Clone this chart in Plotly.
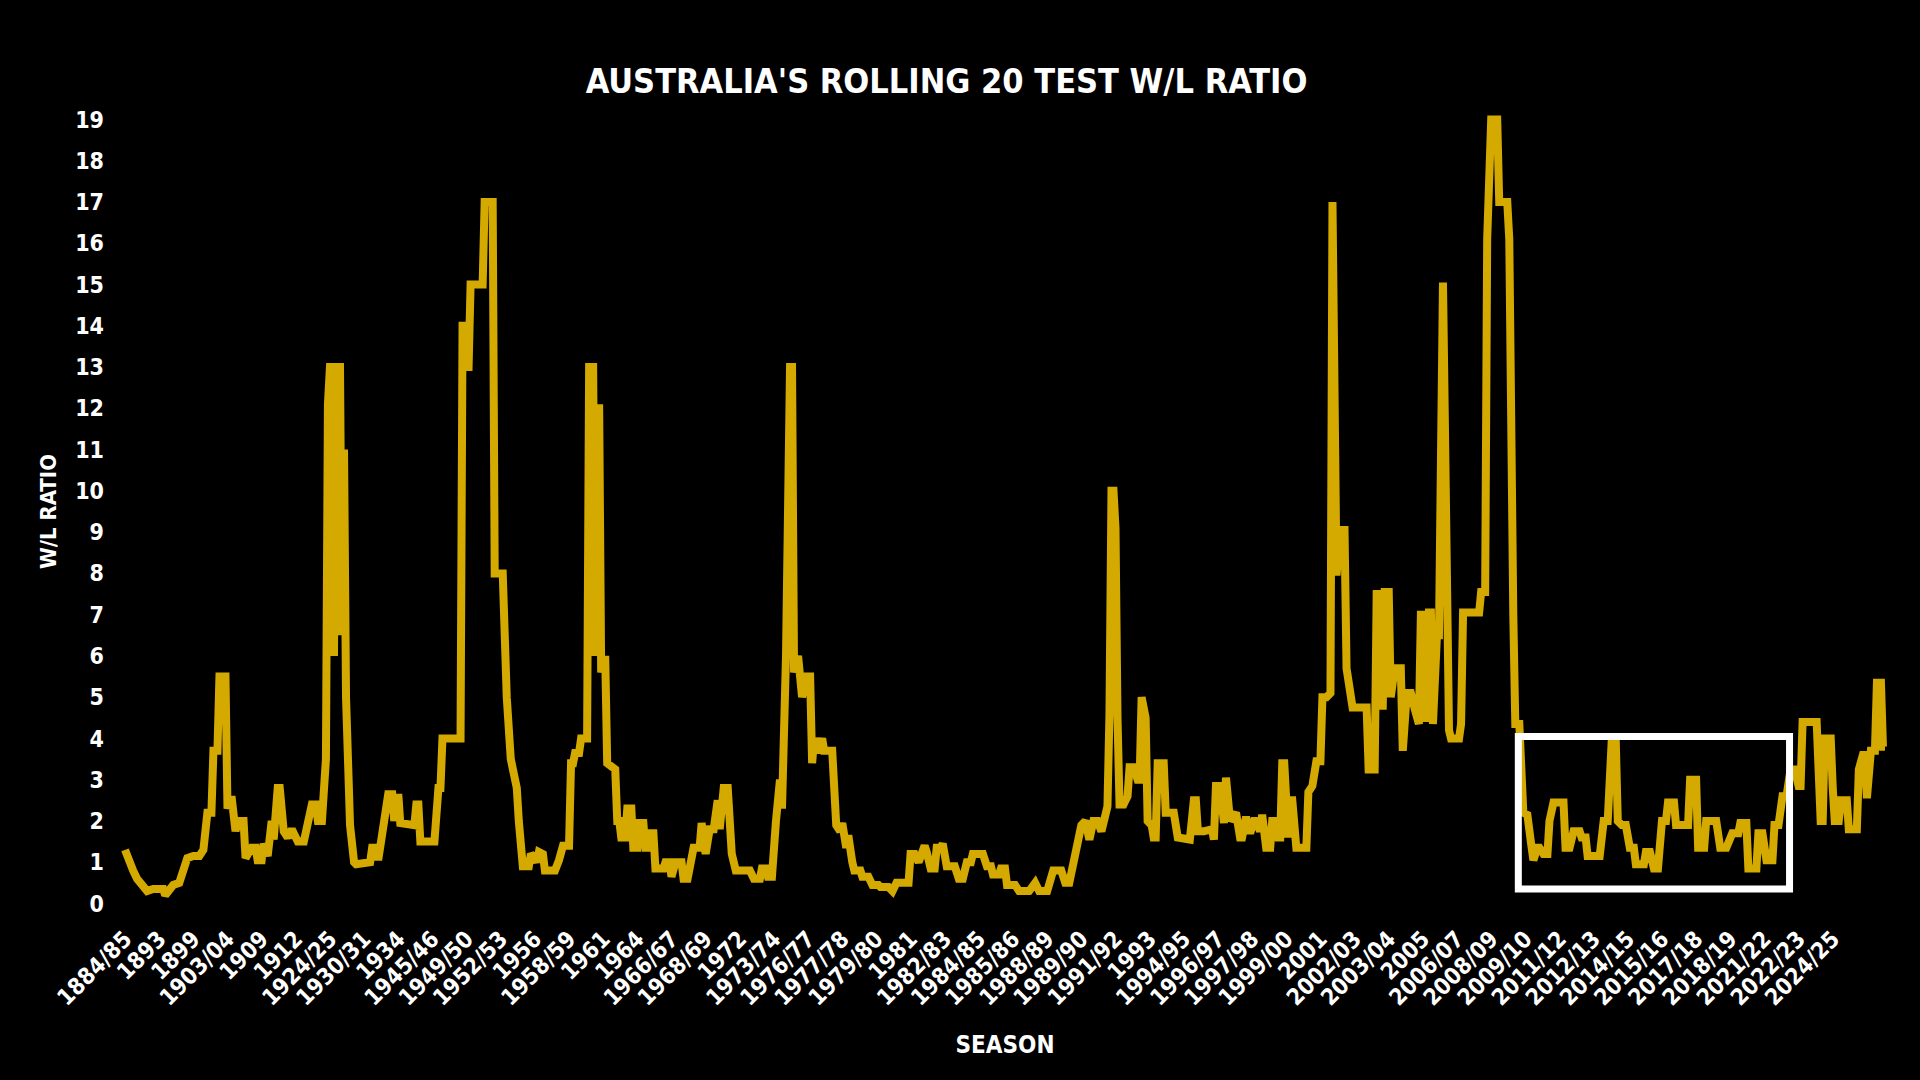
import plotly.graph_objects as go

# test number (rolling 20 window end) and the W/L ratio
test_no = [
    1, 3, 5, 7, 9, 12, 15, 18, 20, 21,
    23, 25, 28, 30, 32, 35, 38, 40, 42, 44,
    45, 47, 48, 51, 52, 54, 55, 56, 57, 60,
    61, 64, 66, 67, 69, 70, 72, 74, 75, 77,
    78, 80, 82, 84, 86, 87, 90, 92, 94, 96,
    97, 99, 100, 101, 102, 103, 104, 105, 106, 108,
    109, 110, 111, 112, 113, 115, 116, 123, 124, 126,
    127, 130, 132, 134, 135, 137, 138, 145, 146, 147,
    148, 155, 156, 157, 158, 159, 168, 169, 170, 171,
    172, 173, 179, 180, 184, 185, 189, 190, 191, 193,
    195, 196, 197, 199, 202, 203, 205, 206, 207, 209,
    210, 215, 217, 219, 222, 223, 224, 225, 227, 228,
    231, 232, 234, 235, 236, 237, 238, 240, 241, 245,
    246, 247, 248, 250, 251, 253, 254, 256, 257, 259,
    260, 262, 263, 264, 265, 269, 270, 272, 273, 275,
    278, 279, 281, 284, 287, 288, 290, 292, 294, 296,
    297, 299, 301, 303, 305, 312, 314, 317, 318, 320,
    321, 323, 325, 327, 328, 330, 332, 333, 334, 336,
    338, 340, 342, 343, 344, 346, 348, 349, 353, 355,
    357, 358, 360, 361, 363, 364, 367, 368, 371, 373,
    376, 377, 381, 383, 385, 391, 392, 394, 396, 399,
    400, 402, 404, 405, 407, 408, 410, 414, 416, 418,
    420, 422, 423, 428, 430, 432, 433, 436, 437, 439,
    440, 444, 446, 451, 454, 456, 460, 463, 467, 469,
    471,
    474, 477, 479, 481, 483, 485, 487, 489, 490, 491,
    492, 493, 494, 495, 496, 498, 499, 500, 501, 503,
    505, 506, 507, 509, 510, 512, 513, 514, 515, 518,
    519, 523, 525, 531, 533, 534, 535, 538, 542, 543,
    544, 546, 548, 549, 551, 553, 554, 556, 557, 559,
    561, 563, 564, 566, 567, 569, 571, 572, 573, 575,
    576, 577, 578, 580, 581, 582, 583, 584, 589, 590,
    592, 594, 596, 597, 599, 601, 602, 604, 606, 608,
    609, 612, 619, 620, 623, 624, 626, 627, 628, 630,
    631, 633, 636, 637, 639, 641, 643, 645, 646, 647,
    648, 650, 651, 652, 654, 655, 657, 659, 660, 661,
    665, 666, 667, 675, 676, 678, 679, 681, 684, 685,
    689, 690, 691, 692, 693, 695,
    697, 699, 701, 702, 704, 705, 707, 709, 710, 712,
    717, 718, 720, 722, 725, 726, 728, 729, 735, 737,
    739, 741, 743, 744, 746, 748, 750, 752, 753, 757,
    758, 760, 762, 764, 766, 768, 769, 772, 773, 779,
    780, 783, 784, 787, 788, 793, 795, 798, 801, 804,
    805, 808, 809, 813, 814, 816, 818, 821, 822, 824,
    826, 828, 830, 832, 834, 835, 836, 843, 845, 846,
    847, 850, 851, 852, 854, 855, 858, 859, 863, 864,
    866, 867, 868, 870, 872, 873, 875, 876, 877,
]

wl_ratio = [
    1.3, 1.0, 0.8, 0.6, 0.45, 0.3, 0.35, 0.35, 0.35, 0.2,
    0.35, 0.45, 0.5, 0.8, 1.1, 1.15, 1.15, 1.3, 2.2, 2.2,
    3.7, 3.7, 5.5, 5.5, 2.3, 2.6, 1.8, 1.75, 2.0, 2.0,
    1.1, 1.35, 1.35, 1.05, 1.05, 1.45, 1.15, 2.0, 1.55, 2.8,
    2.8, 1.75, 1.6, 1.8, 1.6, 1.5, 1.5, 1.9, 2.4, 2.4,
    2.0, 2.0, 2.6, 3.5, 12.1, 13.0, 13.0, 6.0, 13.0, 13.0,
    6.5, 11.0, 5.0, 3.2, 1.9, 1.0, 0.95, 1.0, 1.35, 1.35,
    1.05, 2.0, 2.65, 2.65, 2.0, 2.65, 1.95, 1.9, 2.4, 2.4,
    1.5, 1.5, 2.0, 2.8, 2.8, 4.0, 4.0, 14.0, 14.0, 13.0,
    13.0, 15.0, 15.0, 17.0, 17.0, 8.0, 8.0, 5.3, 5.0, 3.5,
    3.0, 2.8, 2.0, 0.9, 0.9, 1.2, 1.1, 1.0, 1.25, 1.2,
    0.8, 0.8, 1.05, 1.4, 1.4, 3.4, 3.4, 3.65, 3.65, 4.0,
    4.0, 13.0, 13.0, 6.0, 12.0, 12.0, 5.6, 6.0, 3.4, 3.25,
    2.0, 2.0, 1.6, 1.6, 2.3, 2.3, 1.35, 1.35, 1.95, 1.95,
    1.35, 1.35, 1.7, 1.7, 0.85, 0.85, 1.0, 1.0, 0.65, 1.0,
    1.0, 0.6, 0.6, 1.35, 1.35, 1.95, 1.2, 1.8, 1.8, 2.5,
    1.8, 2.8, 2.8, 1.2, 0.8, 0.8, 0.6, 0.6, 0.85, 0.85,
    0.65, 0.65, 2.0, 3.0, 2.3, 6.0, 13.0, 13.0, 5.6, 6.0,
    5.0, 5.5, 5.5, 3.4, 4.0, 3.65, 4.0, 3.7, 3.7, 1.9,
    1.75, 1.95, 1.35, 1.65, 1.0, 0.8, 0.8, 0.65, 0.65, 0.45,
    0.45, 0.4, 0.4, 0.3, 0.5, 0.5, 1.2, 1.2, 1.0, 1.4,
    1.25, 0.85, 0.85, 1.35, 1.35, 1.45, 0.9, 0.9, 0.6, 0.6,
    1.0, 1.0, 1.2, 1.2, 0.9, 0.9, 0.7, 0.7, 0.85, 0.85,
    0.45, 0.45, 0.3, 0.3, 0.5, 0.3, 0.3, 0.8, 0.8, 0.5,
    0.5,
    1.2, 1.9, 2.0, 1.55, 2.0, 2.0, 1.75, 2.35, 2.35, 4.6,
    10.0, 10.0, 9.1, 4.5, 2.4, 2.4, 2.6, 2.6, 3.3, 3.3,
    3.0, 3.0, 5.0, 4.5, 2.0, 1.9, 1.6, 1.6, 3.4, 3.4,
    2.2, 2.2, 1.6, 1.55, 2.5, 2.5, 1.75, 1.75, 1.8, 1.55,
    2.85, 2.85, 1.95, 3.05, 2.0, 2.2, 2.2, 1.6, 1.6, 2.1,
    1.7, 2.0, 2.0, 1.75, 2.15, 1.35, 1.35, 2.0, 2.0, 1.6,
    1.6, 3.4, 3.4, 1.6, 2.5, 2.5, 1.8, 1.35, 1.35, 2.7,
    2.85, 3.45, 3.45, 5.0, 5.0, 5.1, 17.0, 7.95, 9.05, 9.05,
    5.7, 4.75, 4.75, 3.25, 3.25, 7.5, 7.5, 4.7, 7.55, 7.55,
    5.0, 5.7, 5.7, 3.7, 5.1, 5.1, 4.7, 4.35, 7.0, 7.0,
    4.4, 7.05, 7.05, 4.35, 6.5, 6.5, 15.05, 7.05, 4.2, 4.0,
    4.0, 4.35, 7.05, 7.05, 7.55, 7.55, 16.1, 19.0, 19.0, 17.0,
    17.0, 16.1, 7.5, 7.0, 4.35, 4.35,
    2.2, 2.15, 1.4, 1.05, 1.35, 1.35, 1.2, 1.2, 2.0, 2.45,
    2.45, 1.35, 1.35, 1.75, 1.75, 1.6, 1.6, 1.15, 1.15, 2.0,
    2.0, 3.95, 3.95, 2.0, 1.9, 1.9, 1.35, 1.35, 0.95, 0.95,
    1.25, 1.25, 0.85, 0.85, 2.0, 2.0, 2.45, 2.45, 1.9, 1.9,
    3.0, 3.0, 1.35, 1.35, 2.0, 2.0, 1.35, 1.35, 1.7, 1.7,
    1.95, 1.95, 0.85, 0.85, 1.7, 1.7, 1.05, 1.05, 1.9, 1.9,
    2.6, 2.6, 3.25, 3.25, 2.85, 2.85, 4.4, 4.4, 2.0, 2.0,
    4.0, 4.0, 2.8, 2.0, 2.0, 2.5, 2.5, 1.8, 1.8, 3.25,
    3.6, 3.6, 2.55, 3.7, 3.7, 5.35, 5.35, 3.8, 3.8,
]

# every 17th test gets a season label on the axis
season_labels = [
    "1884/85", "1893", "1899", "1903/04", "1909", "1912", "1924/25",
    "1930/31", "1934", "1945/46", "1949/50", "1952/53", "1956", "1958/59",
    "1961", "1964", "1966/67", "1968/69", "1972", "1973/74", "1976/77",
    "1977/78", "1979/80", "1981", "1982/83", "1984/85", "1985/86",
    "1988/89", "1989/90", "1991/92", "1993", "1994/95", "1996/97",
    "1997/98", "1999/00", "2001", "2002/03", "2003/04", "2005", "2006/07",
    "2008/09", "2009/10", "2011/12", "2012/13", "2014/15", "2015/16",
    "2017/18", "2018/19", "2021/22", "2022/23", "2024/25",
]
label_tests = [1 + 17 * i for i in range(len(season_labels))]

assert len(test_no) == len(wl_ratio)

FONT = "DejaVu Sans Condensed, Liberation Sans Narrow, sans-serif"
GOLD = "#D4A900"

trace = go.Scatter(x=test_no, y=wl_ratio, mode="lines",
                   line=dict(color=GOLD, width=8), hoverinfo="skip")

layout = go.Layout(
    width=1920, height=1080,
    paper_bgcolor="black", plot_bgcolor="black",
    margin=dict(l=119, r=29, t=103, b=160),
    showlegend=False,
    font=dict(family=FONT, color="white", weight="bold"),
    title=dict(text="AUSTRALIA'S ROLLING 20 TEST W/L RATIO",
               x=0.493, xref="container", xanchor="center",
               y=0.925, yref="container", yanchor="middle",
               font=dict(family=FONT, size=34, color="white", weight="bold")),
    xaxis=dict(range=[-2, 880], showgrid=False, zeroline=False, showline=False,
               tickmode="array", tickvals=label_tests, ticktext=season_labels,
               tickangle=-45, tickfont=dict(size=23, weight="bold"),
               title=dict(text="SEASON", standoff=26, font=dict(size=24, weight="bold"))),
    yaxis=dict(range=[-0.4, 19.4], showgrid=False, zeroline=False, showline=False,
               tickmode="linear", tick0=0, dtick=1, ticklabelstandoff=14,
               tickfont=dict(size=23, weight="bold"),
               title=dict(text="W/L RATIO", standoff=12, font=dict(size=22, weight="bold"))),
    shapes=[dict(type="rect", xref="x", yref="y", x0=694.5, x1=829.5, y0=0.35, y1=4.05,
                 line=dict(color="white", width=7), fillcolor="rgba(0,0,0,0)")],
)

fig = go.Figure(data=[trace], layout=layout)
fig.write_html("out.html", config={"displayModeBar": False},
               post_script="document.body.style.margin='0';document.body.style.background='black';")
